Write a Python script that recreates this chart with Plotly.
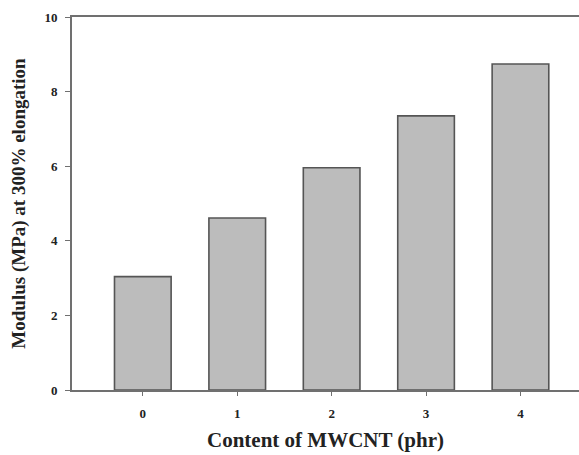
import plotly.graph_objects as go

# MWCNT loading (phr) and modulus at 300% elongation (MPa)
mwcnt_content = [0, 1, 2, 3, 4]
modulus_300 = [3.04, 4.61, 5.96, 7.35, 8.74]
y_ticks = [0, 2, 4, 6, 8, 10]

font_family = "Liberation Serif"
axis_color = "#707070"

fig = go.Figure(
    go.Bar(
        x=mwcnt_content,
        y=modulus_300,
        width=0.6,
        marker=dict(color="#bcbcbc", line=dict(color="#555555", width=1.6)),
    )
)

fig.update_layout(
    width=579,
    height=455,
    margin=dict(l=72, r=0, t=17, b=65),
    paper_bgcolor="white",
    plot_bgcolor="white",
    showlegend=False,
    font=dict(family=font_family, color="#222222"),
)

fig.update_xaxes(
    range=[-0.75, 4.62],
    tickvals=mwcnt_content,
    ticktext=[f"<b>{v}</b>" for v in mwcnt_content],
    tickfont=dict(size=13, family=font_family),
    ticks="outside",
    ticklen=4,
    tickwidth=1.2,
    tickcolor=axis_color,
    ticklabelstandoff=7,
    showline=True,
    linecolor=axis_color,
    linewidth=1.6,
    mirror=True,
    showgrid=False,
    zeroline=False,
    title=dict(
        text="<b>Content of MWCNT (phr)</b>",
        font=dict(size=21, family=font_family),
        standoff=12,
    ),
)

fig.update_yaxes(
    range=[0, 10],
    tickvals=y_ticks,
    ticktext=[f"<b>{v}</b>" for v in y_ticks],
    tickfont=dict(size=13, family=font_family),
    ticks="outside",
    ticklen=5,
    tickwidth=1.2,
    tickcolor=axis_color,
    ticklabelstandoff=5,
    showline=True,
    linecolor=axis_color,
    linewidth=1.6,
    showgrid=False,
    zeroline=False,
    title=dict(
        text="<b>Modulus (MPa) at 300% elongation</b>",
        font=dict(size=19, family=font_family),
        standoff=14,
    ),
)

fig.write_html("out.html")
